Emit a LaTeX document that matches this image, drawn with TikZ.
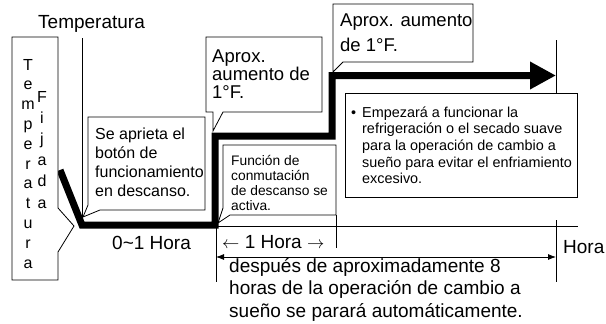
\documentclass[tikz,border=0pt]{standalone}
\usepackage{fontspec}
\setmainfont{Liberation Sans}
\usetikzlibrary{arrows.meta}
\tikzset{
    axis/.style={line width=0.8pt},
    curve/.style={line width=7pt, line join=miter, -{Triangle[length=26pt, width=26pt]}},
    callout/.style={draw, line width=0.8pt, fill=white, line join=miter},
    txt/.style={anchor=north west, inner sep=0pt, align=left},
    lbl/.style={anchor=base west, inner sep=0pt, font=\fontsize{19}{22.5}\selectfont},
    letter/.style={anchor=base, inner sep=0pt, font=\fontsize{16}{18}\selectfont},
    span/.style={line width=0.8pt, {Latex[length=8pt, width=6pt]}-{Latex[length=8pt, width=6pt]}}
}

\begin{document}
\begin{tikzpicture}[x=1pt, y=-1pt]
    \useasboundingbox (0,0) rectangle (606,324);

    % axes and ticks
    \coordinate (ytop) at (82,38);
    \coordinate (origin) at (82,226.5);
    \coordinate (xend) at (578,226.5);
    \coordinate (h0) at (216,226.5);
    \coordinate (h0low) at (216,282);
    \coordinate (h8top) at (556,40);
    \coordinate (h8) at (556,220);
    \coordinate (h8low) at (556,282);
    \draw [axis] (ytop) -- (origin) -- (xend);
    \draw [axis] (h0) -- (h0low);
    \draw [axis] (336,215) -- (336,248);
    \draw [axis] (h8top) -- (556,100);
    \draw [axis] (h8) -- (h8low);

    % set temperature curve
    \draw [curve] (60,170) -- (82,225) -- (215,225) -- (215,136) -- (332,136) -- (332,75.5) -- (556,75.5);

    % callout boxes
    \draw [callout] (12,37) -- (58,37) -- (58,208) -- (74,226) -- (58,252) -- (58,280) -- (12,280) -- cycle;
    \draw [callout] (88,117) -- (205,117) -- (205,210) -- (100,210) -- (83,217) -- (88,205) -- cycle;
    \draw [callout] (206,37) -- (322,37) -- (322,112) -- (223,112) -- (213,131) -- (213,112) -- (206,112) -- cycle;
    \draw [callout] (333,4) -- (473,4) -- (473,62) -- (343,62) -- (333,72) -- cycle;
    \draw [callout] (223,145) -- (336,145) -- (336,215) -- (230,215) -- (218,223) -- (223,208) -- cycle;
    \draw [callout] (345,93) rectangle (577,197);

    % vertical letters
    \foreach \ch [count=\i] in {T,e,m,p,e,r,a,t,u,r,a}
        \node [letter] (temp\i) at (28,{70+19.8*(\i-1)}) {\ch};
    \foreach \ch [count=\i] in {F,i,j,a,d,a}
        \node [letter] (fija\i) at (42,{102+21.2*(\i-1)}) {\ch};

    % texts
    \node [lbl] (ylabel) at (38,28) {Temperatura};
    \node [lbl] (first) at (112,249) {0\textasciitilde1 Hora};
    \node [lbl] (onehour) at (222,248) {$\leftarrow$ 1 Hora $\rightarrow$};
    \node [lbl] (xlabel) at (563,253) {Hora};
    \node [txt, font=\fontsize{16}{19.3}\selectfont] (press) at (95,127.3) {Se aprieta el\\botón de\\funcionamiento\\en descanso.};
    \node [txt, font=\fontsize{18.5}{18}\selectfont] (rise1) at (212,49.8) {Aprox.\\aumento de\\1°F.};
    \node [txt, font=\fontsize{18.5}{24.5}\selectfont] (rise2) at (340,13.7) {Aprox. aumento\\de 1°F.};
    \node [txt, font=\fontsize{13.8}{15}\selectfont] (switch) at (231,155) {Función de\\conmutación\\de descanso se\\activa.};
    \node [txt, font=\fontsize{14.4}{16.6}\selectfont] (dot) at (351,106.5) {\vphantom{Empezará a funcionar la}•};
    \node [txt, font=\fontsize{14.4}{16.6}\selectfont] (note) at (362,106.5) {Empezará a funcionar la\\refrigeración o el secado suave\\para la operación de cambio a\\sueño para evitar el enfriamiento\\excesivo.};
    \node [txt, font=\fontsize{19}{22.5}\selectfont] (stop) at (229,258) {después de aproximadamente 8\\horas de la operación de cambio a\\sueño se parará automáticamente.};

    % eight hour span
    \coordinate (s0) at (216,257);
    \coordinate (s8) at (556,257);
    \draw [span] (s0) -- (s8);
\end{tikzpicture}
\end{document}
